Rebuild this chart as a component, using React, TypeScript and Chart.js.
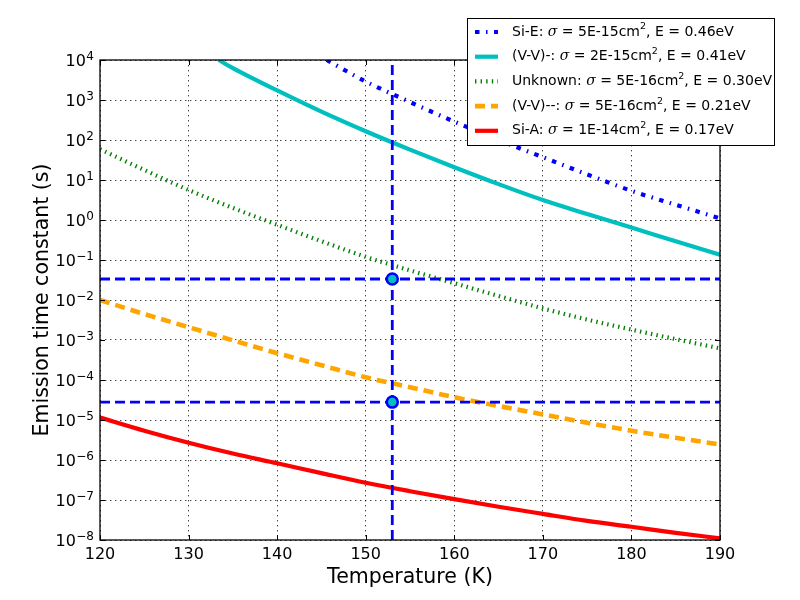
import { useEffect, useRef } from 'react'
import { Chart, registerables } from 'chart.js'

Chart.register(...registerables)
Chart.defaults.font.family = '"DejaVu Sans"'
Chart.defaults.color = '#000'

// temperatures (K) for the curves that span the whole x range
const temps = [120, 125, 130, 135, 140, 145, 150, 155, 160, 165, 170, 175, 180, 185, 190]

// Si-E and (V-V)- come in through the top of the plot, so they start where they enter
const siETemps = [145.6, 150, 155, 160, 165, 170, 175, 180, 185, 190]
const siE = [1e4, 2900, 890, 288, 100, 37.2, 13.8, 5.37, 2.4, 1.1]

const vvMinusTemps = [133.4, 135, 140, 145, 150, 155, 160, 165, 170, 175, 180, 185, 190]
const vvMinus = [1e4, 6300, 1740, 513, 166, 57.5, 20.9, 7.9, 3.16, 1.41, 0.646, 0.295, 0.135]

const unknown = [58.9, 17.8, 5.62, 2.0, 0.759, 0.295, 0.12, 0.055, 0.0263, 0.0126, 0.00617, 0.00324, 0.00182, 0.00105, 0.000617]
const vvMinus2 = [1.0e-2, 4.47e-3, 2.09e-3, 9.8e-4, 4.68e-4, 2.34e-4, 1.17e-4, 6.6e-5, 3.7e-5, 2.24e-5, 1.38e-5, 8.5e-6, 5.4e-6, 3.6e-6, 2.45e-6]
const siA = [1.15e-5, 5.4e-6, 2.7e-6, 1.45e-6, 8.3e-7, 4.7e-7, 2.7e-7, 1.66e-7, 1.05e-7, 6.8e-8, 4.5e-8, 3.0e-8, 2.14e-8, 1.51e-8, 1.1e-8]

// the measured temperature and the two time constants marked on it
const markTemp = 153
const markTaus = [0.0335, 2.8e-5]

// legend text
const names = ['Si-E', '(V-V)-', 'Unknown', '(V-V)--', 'Si-A']
const sigmas = ['5E-15', '2E-15', '5E-16', '5E-16', '1E-14']
const energies = ['0.46', '0.41', '0.30', '0.21', '0.17']

// axis ticks
const xTicks = [120, 130, 140, 150, 160, 170, 180, 190]
const yExps = [-8, -7, -6, -5, -4, -3, -2, -1, 0, 1, 2, 3, 4]

const styles = [
  { color: '#0000ff', width: 4.2, dash: [4.5, 6.5, 1.5, 6.5] },
  { color: '#00bfbf', width: 4.2, dash: [] as number[] },
  { color: '#008000', width: 4.2, dash: [1.4, 4.2] },
  { color: '#ffa500', width: 4.6, dash: [10, 6] },
  { color: '#ff0000', width: 4.2, dash: [] as number[] },
]

const zip = (xs: number[], ys: number[]) => xs.map((x, i) => ({ x, y: ys[i] }))

// inward ticks, the box round the axes and the 10^n labels with a raised exponent
const framePlugin = {
  id: 'frame',
  afterDatasetsDraw(chart: any) {
    const { ctx, chartArea: { left, top, right, bottom }, scales } = chart
    ctx.save()
    ctx.strokeStyle = '#000'
    ctx.lineWidth = 1
    ctx.beginPath()
    xTicks.forEach(v => {
      const px = Math.round(scales.x.getPixelForValue(v)) + 0.5
      ctx.moveTo(px, bottom); ctx.lineTo(px, bottom - 5)
      ctx.moveTo(px, top); ctx.lineTo(px, top + 5)
    })
    yExps.forEach(e => {
      const py = Math.round(scales.y.getPixelForValue(Math.pow(10, e))) + 0.5
      ctx.moveTo(left, py); ctx.lineTo(left + 5, py)
      ctx.moveTo(right, py); ctx.lineTo(right - 5, py)
    })
    ctx.stroke()
    ctx.lineWidth = 1.3
    ctx.strokeRect(left, top, right - left, bottom - top)

    ctx.fillStyle = '#000'
    ctx.textAlign = 'right'
    ctx.textBaseline = 'alphabetic'
    yExps.forEach(e => {
      const py = scales.y.getPixelForValue(Math.pow(10, e))
      const end = left - 6
      ctx.font = '12px "DejaVu Sans"'
      const exp = String(e).replace('-', '\u2212')
      const w = ctx.measureText(exp).width
      ctx.fillText(exp, end, py - 0.5)
      ctx.font = '16px "DejaVu Sans"'
      ctx.fillText('10', end - w - 0.5, py + 6)
    })
    ctx.restore()
  },
}

const legendPlugin = {
  id: 'boxLegend',
  afterDraw(chart: any) {
    const ctx = chart.ctx as CanvasRenderingContext2D
    ctx.save()
    ctx.fillStyle = '#fff'
    ctx.fillRect(467, 18, 308, 128)
    ctx.strokeStyle = '#000'
    ctx.lineWidth = 1
    ctx.strokeRect(467.5, 18.5, 307, 127)
    names.forEach((name, i) => {
      const y = 32 + i * 24.7
      const s = styles[i]
      ctx.beginPath()
      ctx.strokeStyle = s.color
      ctx.lineWidth = s.width
      ctx.lineCap = 'butt'
      ctx.setLineDash(s.dash)
      ctx.moveTo(475, y)
      ctx.lineTo(498, y)
      ctx.stroke()
      ctx.setLineDash([])
      ctx.fillStyle = '#000'
      ctx.textAlign = 'left'
      ctx.textBaseline = 'middle'
      let x = 512
      const put = (t: string, font: string, dy = 0) => {
        ctx.font = font
        ctx.fillText(t, x, y + dy)
        x += ctx.measureText(t).width
      }
      put(name + ': ', '14px "DejaVu Sans"')
      put('σ', 'italic 14px "DejaVu Serif"')
      put(' = ' + sigmas[i] + 'cm', '14px "DejaVu Sans"')
      put('2', '9.5px "DejaVu Sans"', -5)
      put(', E = ' + energies[i] + 'eV', '14px "DejaVu Sans"')
    })
    ctx.restore()
  },
}

export default function App() {
  const chartRef = useRef<HTMLCanvasElement>(null)

  useEffect(() => {
    if (!chartRef.current) return

    const curve = (i: number, data: { x: number; y: number }[]) => ({
      label: names[i],
      data,
      borderColor: styles[i].color,
      borderWidth: styles[i].width,
      borderDash: styles[i].dash,
      borderCapStyle: 'butt' as const,
      pointRadius: 0,
      cubicInterpolationMode: 'monotone' as const,
      fill: false,
      clip: 0,
      order: 3,
    })

    const refLine = (data: { x: number; y: number }[]) => ({
      data,
      borderColor: '#0000ff',
      borderWidth: 2.8,
      borderDash: [10, 5],
      borderCapStyle: 'butt' as const,
      pointRadius: 0,
      fill: false,
      clip: 0,
      order: 2,
    })

    const chart = new Chart(chartRef.current, {
      type: 'line',
      data: {
        datasets: [
          {
            type: 'scatter' as const,
            data: markTaus.map(t => ({ x: markTemp, y: t })),
            pointRadius: 5.5,
            pointBackgroundColor: '#00bfbf',
            pointBorderColor: '#0000ff',
            pointBorderWidth: 2.5,
            showLine: false,
            clip: 0,
            order: 1,
          } as any,
          refLine([{ x: markTemp, y: Math.pow(10, yExps[0]) }, { x: markTemp, y: Math.pow(10, yExps[yExps.length - 1]) }]),
          refLine([{ x: xTicks[0], y: markTaus[0] }, { x: xTicks[xTicks.length - 1], y: markTaus[0] }]),
          refLine([{ x: xTicks[0], y: markTaus[1] }, { x: xTicks[xTicks.length - 1], y: markTaus[1] }]),
          curve(0, zip(siETemps, siE)),
          curve(1, zip(vvMinusTemps, vvMinus)),
          curve(2, zip(temps, unknown)),
          curve(3, zip(temps, vvMinus2)),
          curve(4, zip(temps, siA)),
        ],
      },
      options: {
        animation: false,
        responsive: false,
        devicePixelRatio: 1,
        events: [],
        layout: { padding: { top: 60, right: 80, left: 0, bottom: 0 } },
        plugins: {
          legend: { display: false },
          tooltip: { enabled: false },
        },
        scales: {
          x: {
            type: 'linear',
            min: 120,
            max: 190,
            afterBuildTicks: (s: any) => { s.ticks = xTicks.map(v => ({ value: v })) },
            afterFit: (s: any) => { s.height = 60 },
            ticks: { font: { size: 16 }, color: '#000', padding: 5, maxRotation: 0 },
            grid: { color: 'rgba(0,0,0,0.75)', lineWidth: 1, drawTicks: false },
            border: { display: false, dash: [1.4, 3.6] },
            title: {
              display: true,
              text: 'Temperature (K)',
              font: { size: 20.5 },
              color: '#000',
              padding: { top: 0, bottom: 10 },
            },
          },
          y: {
            type: 'logarithmic',
            min: Math.pow(10, yExps[0]),
            max: Math.pow(10, yExps[yExps.length - 1]),
            afterBuildTicks: (s: any) => { s.ticks = yExps.map(e => ({ value: Math.pow(10, e) })) },
            afterFit: (s: any) => { s.width = 100 },
            ticks: { display: false },
            grid: { color: 'rgba(0,0,0,0.75)', lineWidth: 1, drawTicks: false },
            border: { display: false, dash: [1.4, 3.6] },
            title: {
              display: true,
              text: 'Emission time constant (s)',
              font: { size: 20.5 },
              color: '#000',
              padding: { top: 30, bottom: 0 },
            },
          },
        },
      },
      plugins: [framePlugin, legendPlugin],
    })

    return () => chart.destroy()
  }, [])

  return (
    <div style={{ position: 'fixed', left: 0, top: 0, width: 800, height: 600, background: '#fff' }}>
      <canvas ref={chartRef} width={800} height={600} style={{ width: 800, height: 600, display: 'block' }} />
    </div>
  )
}
